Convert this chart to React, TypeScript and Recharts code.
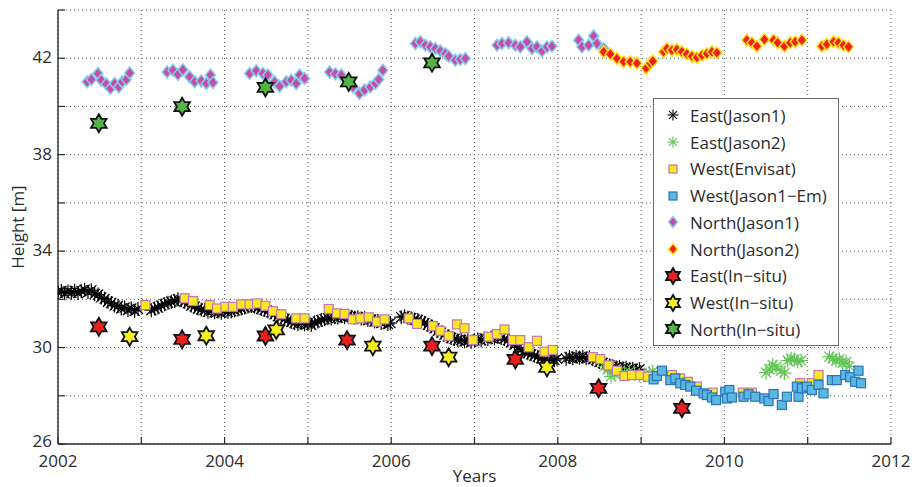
import {CartesianGrid, Label, Legend, Scatter, ScatterChart, XAxis, YAxis} from "recharts";

const FONT = '"Open Sans", "DejaVu Sans", sans-serif';
const INK = "#2b2b2b";

const yearTicks = [2002, 2003, 2004, 2005, 2006, 2007, 2008, 2009, 2010, 2011, 2012];
const yearLabels = [2002, 2004, 2006, 2008, 2010, 2012];
const heightTicks = [26, 28, 30, 32, 34, 36, 38, 40, 42, 44];
const heightLabels = [26, 30, 34, 38, 42];

// [year, height m]
const eastJason1: [number, number][] = [
  [2002.00, 32.28], [2002.04, 32.35], [2002.08, 32.25], [2002.12, 32.33], [2002.16, 32.27], [2002.20, 32.36],
  [2002.24, 32.26], [2002.28, 32.34], [2002.32, 32.40], [2002.36, 32.30], [2002.40, 32.38], [2002.44, 32.22],
  [2002.48, 32.20], [2002.52, 32.08], [2002.56, 32.02], [2002.60, 31.90], [2002.64, 31.85], [2002.68, 31.74],
  [2002.72, 31.72], [2002.76, 31.62], [2002.80, 31.66], [2002.84, 31.56], [2002.88, 31.62], [2002.92, 31.52],
  [2002.96, 31.60],
  [2003.12, 31.55], [2003.16, 31.62], [2003.20, 31.66], [2003.24, 31.74], [2003.28, 31.80], [2003.32, 31.86],
  [2003.36, 31.90], [2003.40, 31.92], [2003.44, 32.00], [2003.48, 31.96], [2003.52, 31.90], [2003.56, 31.84],
  [2003.60, 31.74], [2003.64, 31.70], [2003.68, 31.62], [2003.72, 31.58], [2003.76, 31.56], [2003.80, 31.48],
  [2003.84, 31.52], [2003.88, 31.46], [2003.92, 31.50], [2003.96, 31.44], [2004.00, 31.52], [2004.04, 31.48],
  [2004.08, 31.50], [2004.12, 31.54], [2004.16, 31.58], [2004.20, 31.62], [2004.24, 31.66], [2004.28, 31.70],
  [2004.32, 31.72], [2004.36, 31.70], [2004.40, 31.66], [2004.44, 31.60], [2004.48, 31.56], [2004.52, 31.50],
  [2004.56, 31.46], [2004.60, 31.38], [2004.64, 31.30], [2004.68, 31.24], [2004.72, 31.18], [2004.76, 31.14],
  [2004.80, 31.06], [2004.84, 31.02], [2004.88, 30.98], [2004.92, 31.02], [2004.96, 30.96], [2005.00, 31.00],
  [2005.04, 30.94], [2005.08, 31.04], [2005.12, 31.08], [2005.16, 31.14], [2005.20, 31.18], [2005.24, 31.22],
  [2005.28, 31.20], [2005.32, 31.26], [2005.36, 31.24], [2005.40, 31.30], [2005.44, 31.26], [2005.48, 31.32],
  [2005.52, 31.28], [2005.56, 31.24], [2005.60, 31.26], [2005.64, 31.20], [2005.68, 31.22], [2005.72, 31.14],
  [2005.76, 31.16], [2005.80, 31.08], [2005.84, 31.10], [2005.88, 31.02], [2005.92, 31.06], [2005.96, 30.98],
  [2005.99, 31.02],
  [2006.12, 31.26], [2006.16, 31.30], [2006.20, 31.24], [2006.24, 31.22], [2006.28, 31.16], [2006.32, 31.14],
  [2006.36, 31.08], [2006.40, 31.02], [2006.44, 30.94], [2006.48, 30.88], [2006.52, 30.80], [2006.56, 30.70],
  [2006.60, 30.62], [2006.64, 30.54], [2006.68, 30.46], [2006.72, 30.40], [2006.76, 30.36], [2006.80, 30.30],
  [2006.84, 30.32], [2006.88, 30.26], [2006.92, 30.30], [2006.96, 30.24], [2007.00, 30.30], [2007.04, 30.34],
  [2007.08, 30.30], [2007.12, 30.38], [2007.16, 30.36], [2007.20, 30.42], [2007.24, 30.38], [2007.28, 30.44],
  [2007.32, 30.40], [2007.36, 30.36], [2007.40, 30.30], [2007.44, 30.22], [2007.48, 30.12], [2007.52, 30.00],
  [2007.56, 29.90], [2007.60, 29.84], [2007.64, 29.76], [2007.68, 29.72], [2007.72, 29.66], [2007.76, 29.62],
  [2007.80, 29.56], [2007.84, 29.50], [2007.88, 29.46], [2007.92, 29.52], [2007.96, 29.48], [2007.99, 29.54],
  [2008.10, 29.54], [2008.14, 29.60], [2008.18, 29.56], [2008.22, 29.62], [2008.26, 29.58], [2008.30, 29.62],
  [2008.34, 29.56], [2008.38, 29.60], [2008.42, 29.52], [2008.46, 29.48], [2008.50, 29.40], [2008.54, 29.36],
  [2008.58, 29.30], [2008.62, 29.26], [2008.66, 29.22], [2008.70, 29.18], [2008.74, 29.20], [2008.78, 29.14],
  [2008.82, 29.16], [2008.86, 29.10], [2008.90, 29.12], [2008.94, 29.06], [2008.98, 29.10],
];

const eastJason2: [number, number][] = [
  [2008.56, 29.22], [2008.60, 29.10], [2008.64, 28.80], [2008.68, 28.92], [2008.74, 29.02], [2008.80, 28.96],
  [2008.86, 29.00], [2008.92, 28.90], [2008.98, 28.86], [2009.04, 28.84], [2009.10, 28.94], [2009.14, 29.00],
  [2010.50, 28.96], [2010.54, 29.10], [2010.58, 29.28], [2010.62, 29.20], [2010.68, 29.04], [2010.72, 28.94],
  [2010.76, 29.46], [2010.80, 29.54], [2010.84, 29.50], [2010.88, 29.42], [2010.92, 29.46],
  [2011.26, 29.62], [2011.30, 29.55], [2011.34, 29.46], [2011.38, 29.52], [2011.42, 29.36], [2011.46, 29.40],
  [2011.50, 29.22],
];

const westEnvisat: [number, number][] = [
  [2003.05, 31.76], [2003.52, 32.04], [2003.62, 31.93], [2003.82, 31.76], [2003.91, 31.62], [2004.01, 31.69],
  [2004.10, 31.69], [2004.20, 31.79], [2004.30, 31.79], [2004.39, 31.83], [2004.49, 31.73], [2004.58, 31.51],
  [2004.68, 31.38], [2004.86, 31.21], [2004.96, 31.21], [2005.25, 31.60], [2005.35, 31.42], [2005.44, 31.39],
  [2005.54, 31.17], [2005.63, 31.21], [2005.73, 31.25], [2005.83, 31.07], [2005.92, 31.17], [2006.21, 31.21],
  [2006.31, 30.98], [2006.50, 30.89], [2006.59, 30.70], [2006.69, 30.48], [2006.79, 30.96], [2006.88, 30.80],
  [2006.98, 30.31], [2007.17, 30.45], [2007.27, 30.56], [2007.36, 30.75], [2007.46, 30.31], [2007.55, 30.31],
  [2007.65, 30.01], [2007.75, 30.28], [2007.84, 29.83], [2007.94, 29.90], [2008.42, 29.60], [2008.51, 29.52],
  [2008.61, 29.26], [2008.71, 29.04], [2008.80, 28.82], [2008.89, 28.86], [2008.99, 28.86], [2009.08, 28.79],
  [2009.37, 28.86], [2009.47, 28.72], [2009.56, 28.58], [2009.67, 28.38], [2009.86, 28.13], [2010.22, 28.13],
  [2010.33, 28.13], [2010.91, 28.52], [2011.05, 28.52], [2011.13, 28.86],
];

const westJason1Em: [number, number][] = [
  [2009.15, 28.68], [2009.19, 28.82], [2009.25, 29.04], [2009.35, 28.65], [2009.41, 28.72], [2009.47, 28.52],
  [2009.53, 28.45], [2009.59, 28.38], [2009.66, 28.21], [2009.75, 28.10], [2009.79, 28.03], [2009.85, 27.93],
  [2009.90, 27.82], [2010.01, 28.17], [2010.06, 28.24], [2010.03, 27.89], [2010.09, 27.93], [2010.23, 27.96],
  [2010.29, 28.06], [2010.37, 27.96], [2010.48, 27.89], [2010.53, 27.78], [2010.59, 28.07], [2010.69, 27.62],
  [2010.75, 27.96], [2010.87, 28.38], [2010.89, 27.96], [2010.93, 28.31], [2010.99, 28.38], [2011.05, 28.24],
  [2011.13, 28.45], [2011.19, 28.10], [2011.29, 28.65], [2011.35, 28.65], [2011.45, 28.86], [2011.51, 28.77],
  [2011.57, 28.58], [2011.61, 29.04], [2011.64, 28.52],
];

const northJason1: [number, number][] = [
  [2002.35, 41.02], [2002.40, 41.12], [2002.48, 41.37], [2002.52, 41.09], [2002.58, 40.93], [2002.63, 40.75],
  [2002.68, 40.95], [2002.73, 40.81], [2002.77, 41.02], [2002.82, 41.12], [2002.86, 41.39],
  [2003.31, 41.43], [2003.38, 41.50], [2003.44, 41.33], [2003.50, 41.52], [2003.58, 41.23], [2003.64, 41.02],
  [2003.72, 41.06], [2003.78, 40.95], [2003.83, 41.30], [2003.86, 40.99],
  [2004.30, 41.37], [2004.38, 41.48], [2004.46, 41.37], [2004.52, 41.30], [2004.60, 41.02], [2004.66, 40.84],
  [2004.74, 41.02], [2004.80, 41.09], [2004.86, 40.95], [2004.90, 41.30], [2004.96, 41.16],
  [2005.26, 41.43], [2005.33, 41.35], [2005.40, 41.30], [2005.47, 41.05], [2005.54, 40.81], [2005.62, 40.54],
  [2005.68, 40.68], [2005.75, 40.81], [2005.81, 40.95], [2005.85, 41.12], [2005.90, 41.50],
  [2006.29, 42.61], [2006.35, 42.68], [2006.41, 42.54], [2006.47, 42.47], [2006.53, 42.40], [2006.59, 42.30],
  [2006.65, 42.19], [2006.69, 42.08], [2006.77, 41.92], [2006.83, 41.95], [2006.89, 41.99],
  [2007.27, 42.54], [2007.33, 42.61], [2007.41, 42.64], [2007.49, 42.54], [2007.55, 42.47], [2007.63, 42.68],
  [2007.69, 42.40], [2007.75, 42.47], [2007.81, 42.30], [2007.87, 42.47], [2007.93, 42.50],
  [2008.25, 42.75], [2008.29, 42.47], [2008.37, 42.54], [2008.43, 42.92], [2008.47, 42.61], [2008.55, 42.40],
];

const northJason2: [number, number][] = [
  [2008.55, 42.27], [2008.63, 42.17], [2008.71, 41.99], [2008.79, 41.85], [2008.87, 41.85], [2008.95, 41.79],
  [2009.06, 41.58], [2009.11, 41.79], [2009.14, 41.88],
  [2009.27, 42.27], [2009.31, 42.40], [2009.37, 42.33], [2009.43, 42.36], [2009.49, 42.27], [2009.55, 42.17],
  [2009.61, 42.08], [2009.67, 42.03], [2009.73, 42.12], [2009.79, 42.19], [2009.85, 42.27], [2009.91, 42.23],
  [2010.27, 42.75], [2010.33, 42.64], [2010.39, 42.50], [2010.48, 42.78], [2010.59, 42.75], [2010.64, 42.64],
  [2010.72, 42.50], [2010.79, 42.64], [2010.85, 42.68], [2010.93, 42.75],
  [2011.17, 42.50], [2011.23, 42.58], [2011.31, 42.68], [2011.37, 42.64], [2011.43, 42.54], [2011.49, 42.47],
];

const eastInSitu: [number, number][] = [
  [2002.49, 30.86], [2003.49, 30.34], [2004.49, 30.48], [2005.47, 30.31], [2006.49, 30.06], [2007.49, 29.51],
  [2008.49, 28.31], [2009.49, 27.48],
];
const westInSitu: [number, number][] = [
  [2002.86, 30.45], [2003.78, 30.49], [2004.62, 30.73], [2005.78, 30.06], [2006.69, 29.60], [2007.87, 29.18],
];
const northInSitu: [number, number][] = [
  [2002.49, 39.30], [2003.49, 39.99], [2004.49, 40.79], [2005.49, 41.02], [2006.49, 41.81],
];

type Marker = "asterisk" | "square" | "diamond" | "hexagram";

const series: { name: string, data: [number, number][], marker: Marker, fill: string, stroke: string }[] = [
  {name: "East(Jason1)", data: eastJason1, marker: "asterisk", fill: "none", stroke: "#000000"},
  {name: "East(Jason2)", data: eastJason2, marker: "asterisk", fill: "none", stroke: "#62c455"},
  {name: "West(Envisat)", data: westEnvisat, marker: "square", fill: "#fbe91c", stroke: "#c276b6"},
  {name: "West(Jason1\u2212Em)", data: westJason1Em, marker: "square", fill: "#5bb8e4", stroke: "#2a74b4"},
  {name: "North(Jason1)", data: northJason1, marker: "diamond", fill: "#c44ea6", stroke: "#86cdee"},
  {name: "North(Jason2)", data: northJason2, marker: "diamond", fill: "#f0201c", stroke: "#ffe21a"},
  {name: "East(In\u2212situ)", data: eastInSitu, marker: "hexagram", fill: "#ea2020", stroke: "#111111"},
  {name: "West(In\u2212situ)", data: westInSitu, marker: "hexagram", fill: "#f4ee22", stroke: "#111111"},
  {name: "North(In\u2212situ)", data: northInSitu, marker: "hexagram", fill: "#52b444", stroke: "#111111"},
];

const hexPath = (cx: number, cy: number, R: number) => {
  const r = R * 0.577;
  let d = "";
  for (let i = 0; i < 12; i++) {
    const a = (-90 + i * 30) * Math.PI / 180;
    const rad = i % 2 === 0 ? R : r;
    d += (i === 0 ? "M" : "L") + (cx + rad * Math.cos(a)).toFixed(2) + "," + (cy + rad * Math.sin(a)).toFixed(2);
  }
  return d + "Z";
};

const MarkerGlyph = ({cx, cy, marker, fill, stroke, small}: {
  cx: number, cy: number, marker: Marker, fill: string, stroke: string, small?: boolean
}) => {
  if (marker === "asterisk") {
    const r = small ? 5.5 : 7, d = r * 0.72;
    return <g stroke={stroke} strokeWidth={small ? 1.1 : 1.2}>
      <line x1={cx - r} y1={cy} x2={cx + r} y2={cy}/>
      <line x1={cx} y1={cy - r} x2={cx} y2={cy + r}/>
      <line x1={cx - d} y1={cy - d} x2={cx + d} y2={cy + d}/>
      <line x1={cx - d} y1={cy + d} x2={cx + d} y2={cy - d}/>
    </g>;
  }
  if (marker === "square") {
    const h = small ? 4 : 4.5;
    return <rect x={cx - h} y={cy - h} width={2 * h} height={2 * h} fill={fill} stroke={stroke} strokeWidth={1.2}/>;
  }
  if (marker === "diamond") {
    const w = small ? 4.5 : 5, h = small ? 5.5 : 6;
    return <path d={`M${cx},${cy - h}L${cx + w},${cy}L${cx},${cy + h}L${cx - w},${cy}Z`}
                 fill={fill} stroke={stroke} strokeWidth={1.5}/>;
  }
  return <path d={hexPath(cx, cy, small ? 8 : 9)} fill={fill} stroke={stroke} strokeWidth={1.8}/>;
};

const tickText = {fontFamily: FONT, fontSize: 17, fill: INK};

const BottomTick = ({x, y, payload}: any) => <g>
  <line x1={x} y1={y} x2={x} y2={y - 7} stroke={INK} strokeWidth={1.2}/>
  {yearLabels.includes(payload.value) &&
    <text x={x} y={y + 23} textAnchor="middle" style={tickText}>{payload.value}</text>}
</g>;

const TopTick = ({x, y}: any) =>
  <line x1={x} y1={y} x2={x} y2={y + 7} stroke={INK} strokeWidth={1.2}/>;

const LeftTick = ({x, y, payload}: any) => <g>
  <line x1={x} y1={y} x2={x + 7} y2={y} stroke={INK} strokeWidth={1.2}/>
  {heightLabels.includes(payload.value) &&
    <text x={x - 6} y={y + (payload.value === 26 ? 3 : 5)} textAnchor="end" style={tickText}>{payload.value}</text>}
</g>;

const RightTick = ({x, y}: any) =>
  <line x1={x} y1={y} x2={x - 7} y2={y} stroke={INK} strokeWidth={1.2}/>;

const LegendBox = () => <div style={{
  width: 184, height: 243, background: "#fff", border: "1px solid #6a6a6a",
  paddingTop: 3, boxSizing: "content-box", fontFamily: FONT, fontSize: 17, color: INK,
}}>
  {series.map(s => <div key={s.name} style={{height: 26.75, display: "flex", alignItems: "center"}}>
    <svg width={22} height={22} style={{marginLeft: 8, marginRight: 6, flex: "none"}}>
      <MarkerGlyph cx={11} cy={11} marker={s.marker} fill={s.fill} stroke={s.stroke} small/>
    </svg>
    <span style={{whiteSpace: "nowrap"}}>{s.name}</span>
  </div>)}
</div>;

const axisLine = {stroke: INK, strokeWidth: 1.4};

export default function App() {
  return <div style={{position: "absolute", left: 0, top: 0, width: 912, height: 487, background: "#fff"}}>
    <ScatterChart width={912} height={487} margin={{top: 10, right: 21, bottom: 0, left: 0}}>
      <CartesianGrid stroke="#5a5a5a" strokeDasharray="1 3"/>
      <XAxis type="number" dataKey="x" domain={[2002, 2012]} ticks={yearTicks} interval={0} height={43}
             tickLine={false} tickSize={0} tickMargin={0} tick={BottomTick} axisLine={axisLine} allowDataOverflow>
        <Label content={({viewBox}: any) =>
          <text x={viewBox.x + viewBox.width / 2} y={viewBox.y + 38} textAnchor="middle" style={tickText}>Years</text>}/>
      </XAxis>
      <XAxis xAxisId="top" orientation="top" type="number" dataKey="x" domain={[2002, 2012]} ticks={yearTicks}
             interval={0} height={0} tickLine={false} tickSize={0} tickMargin={0} tick={TopTick} axisLine={axisLine}/>
      <YAxis type="number" dataKey="y" domain={[26, 44]} ticks={heightTicks} interval={0} width={58}
             tickLine={false} tickSize={0} tickMargin={0} tick={LeftTick} axisLine={axisLine} allowDataOverflow>
        <Label content={() =>
          <text x={24} y={227} transform="rotate(-90, 24, 227)" textAnchor="middle" style={tickText}>Height [m]</text>}/>
      </YAxis>
      <YAxis yAxisId="right" orientation="right" type="number" dataKey="y" domain={[26, 44]} ticks={heightTicks}
             interval={0} width={0} tickLine={false} tickSize={0} tickMargin={0} tick={RightTick} axisLine={axisLine}/>
      <Legend layout="vertical" align="center" verticalAlign="middle" content={LegendBox}
              wrapperStyle={{left: 653, top: 98, width: 186, height: 247}}/>
      {series.map(s => <Scatter key={s.name} name={s.name} isAnimationActive={false}
                                data={s.data.map(([x, y]) => ({x, y}))}
                                shape={(p: any) => <MarkerGlyph cx={p.cx} cy={p.cy} marker={s.marker} fill={s.fill}
                                                                stroke={s.stroke}/>}/>)}
    </ScatterChart>
  </div>;
}
